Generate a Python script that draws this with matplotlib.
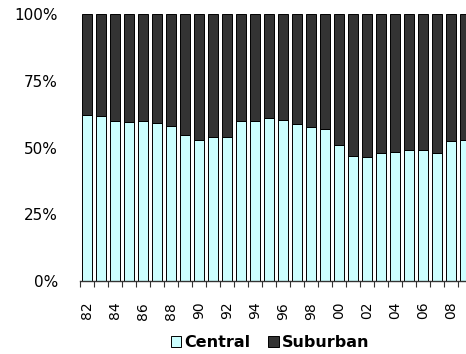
import numpy as np
import matplotlib.pyplot as plt
from matplotlib.ticker import FixedLocator, PercentFormatter

years = list(range(1982, 2010))
central = [62.2, 61.9, 60.0, 59.4, 60.0, 59.0, 58.0, 54.8, 52.8, 53.8,
           53.8, 60.0, 60.0, 60.9, 60.4, 58.7, 57.6, 56.8, 50.9, 46.7,
           46.3, 47.9, 48.3, 49.2, 48.9, 47.8, 52.4, 52.9]
suburban = [100 - c for c in central]
tick_labels = [f"{y % 100:02d}" for y in years[::2]]

plt.rcParams['font.family'] = ['DejaVu Sans']

fig = plt.figure(figsize=(4.66, 3.54), dpi=100)
# plot area runs a little past the right edge, so the last bar is clipped
ax = fig.add_axes([80.3 / 466, 1 - 281 / 354, 392 / 466, 267 / 354])

x = np.arange(len(years))
ax.bar(x, central, width=0.714, color='#ccffff', edgecolor='#5a6666',
       linewidth=0.8, label='Central')
ax.bar(x, suburban, width=0.714, bottom=central, color='#333333',
       edgecolor='#111111', linewidth=0.8, label='Suburban')

ax.set_xlim(-0.5, len(years) - 0.5)
ax.set_ylim(0, 100)

# tick marks sit between the bars, labels under every other bar
ax.xaxis.set_major_locator(FixedLocator(np.arange(-0.5, len(years), 1.0)))
ax.xaxis.set_minor_locator(FixedLocator(x[::2]))
ax.set_xticklabels([], minor=False)
ax.set_xticklabels(tick_labels, minor=True, rotation=90, fontsize=10)
ax.tick_params(axis='x', which='major', length=4, width=0.8, color='#333333',
               direction='out')
ax.tick_params(axis='x', which='minor', length=0, pad=15)

ax.set_yticks([0, 25, 50, 75, 100])
ax.yaxis.set_major_formatter(PercentFormatter(decimals=0))
ax.tick_params(axis='y', length=0, pad=16, labelsize=11)

for side in ['top', 'right', 'left']:
    ax.spines[side].set_visible(False)
ax.spines['bottom'].set_color('#333333')
ax.spines['bottom'].set_linewidth(1.0)

handles, labels = ax.get_legend_handles_labels()
for h in handles:
    for p in h.patches:
        p.set_edgecolor('black')
        p.set_linewidth(0.7)
leg = fig.legend(handles, labels, loc='center', bbox_to_anchor=(0.58, 0.032),
                 ncol=2, frameon=False, handlelength=0.65, handleheight=0.65,
                 handletextpad=0.2, columnspacing=1.1,
                 prop={'weight': 'bold', 'size': 11.5})

fig.savefig('out.png', dpi=100)
